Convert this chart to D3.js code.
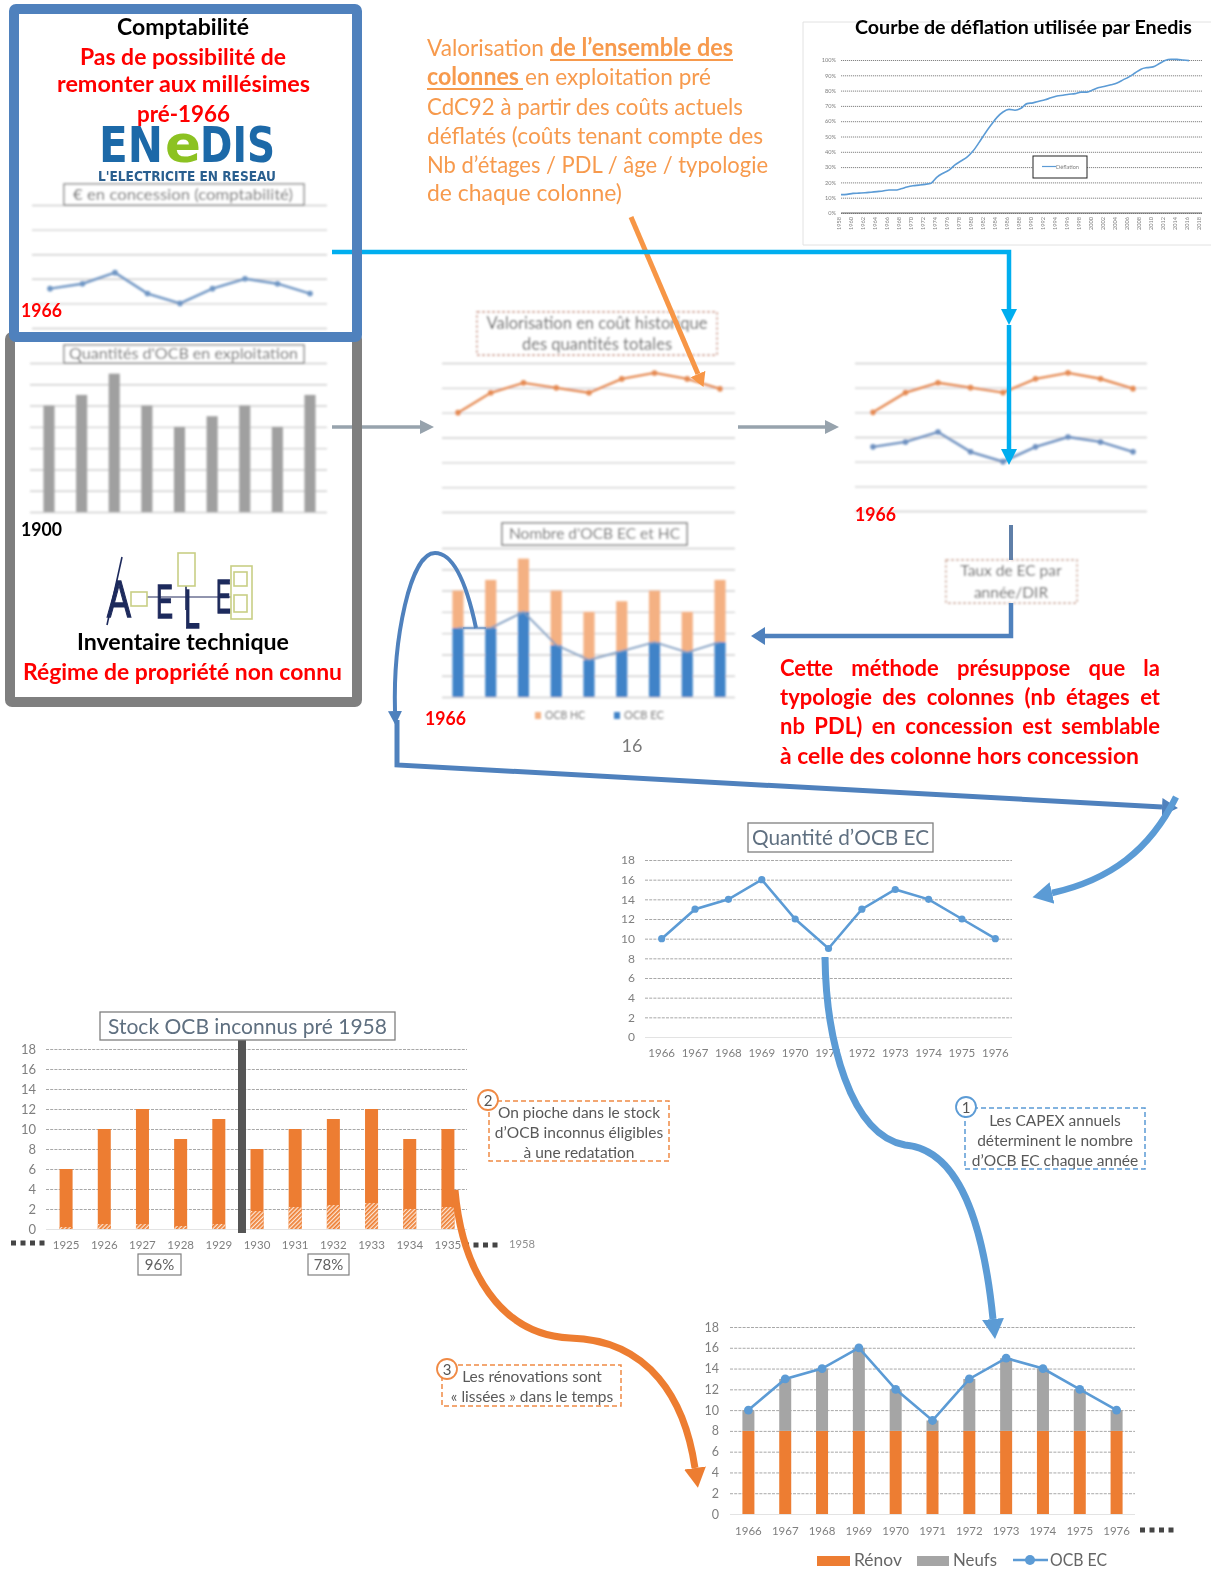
<!DOCTYPE html>
<html><head><meta charset="utf-8">
<script src="https://cdn.jsdelivr.net/npm/d3@7/dist/d3.min.js"></script>
<style>html,body{margin:0;padding:0;background:#fff}svg{display:block}text{font-family:Lato,"Open Sans",sans-serif}</style>
</head><body><script>
// ---------- data ----------
const comptaValues=[1.6,1.8,2.25,1.4,1.0,1.6,2.0,1.8,1.4];
const quantityValues=[5,5.5,6.5,5,4,4.5,5,4,5.5];
const valorisationValues=[4.0,4.8,5.2,5.0,4.8,5.36,5.6,5.36,4.96];
const ecCostValues=[2.6,2.8,3.2,2.4,2,2.6,3,2.8,2.4];
const ecCountValues=[3.24,3.24,4,2.44,1.74,2.16,2.58,2.1,2.58];
const miniCats=[0,1,2,3,4,5,6,7,8];
const deflationYears=d3.range(1958,2017);
const deflationValues=[12,12.2,12.8,13,13.2,13.6,14,14.4,15,15,15.8,17,17.8,18.2,18.7,19.5,23.5,26,28,31.5,34,36.5,40.5,46,52,57.5,62.5,66,67.7,67.2,68.5,71.5,72,73,74,75.3,76.5,77,77.6,78,79,79,80.5,82,82.8,83.8,85,87,89,91.5,94,95,95.5,97.5,99.7,100.5,100.4,100,99.6];
const ocbYears=[1966,1967,1968,1969,1970,1971,1972,1973,1974,1975,1976];
const ocbEC=[10,13,14,16,12,9,13,15,14,12,10];
const renov=[8,8,8,8,8,8,8,8,8,8,8];
const neufs=[2,5,6,8,4,1,5,7,6,4,2];
const stockYears=[1925,1926,1927,1928,1929,1930,1931,1932,1933,1934,1935];
const stockTotal=[6,10,12,9,11,8,10,11,12,9,10];
const stockHatched=[0.2,0.5,0.5,0.3,0.5,1.8,2.2,2.4,2.6,2,2.2];
const ticks18=[0,2,4,6,8,10,12,14,16,18];
const pctTicks=d3.range(0,101,10);
const deflationTicks=d3.range(1958,2019,2);

const C={orange:'#ed7d31',blue:'#5b9bd5',grey:'#a5a5a5',txt:'#6f6f6f',red:'#ff0000',dk:'#4f81bd',lorange:'#f79a4d'};
const svg=d3.select('body').append('svg').attr('width',1211).attr('height',1569);
const defs=svg.append('defs');
[['b1',1.0],['b2',0.4]].forEach(([id,s])=>defs.append('filter').attr('id',id).attr('x','-5%').attr('y','-5%').attr('width','110%').attr('height','110%')
  .append('feGaussianBlur').attr('stdDeviation',s));
const hp=defs.append('pattern').attr('id','hatch').attr('width',3).attr('height',3).attr('patternUnits','userSpaceOnUse').attr('patternTransform','rotate(-45)');
hp.append('rect').attr('width',3).attr('height',3).attr('fill','#fde6d6');
hp.append('rect').attr('width',3).attr('height',1.7).attr('fill',C.orange);
let mk=0;
function head(color,len,half){const id='m'+(mk++);
  defs.append('marker').attr('id',id).attr('markerUnits','userSpaceOnUse').attr('orient','auto').attr('markerWidth',len+1).attr('markerHeight',half*2+2)
   .attr('viewBox',`0 ${-half-1} ${len+1} ${half*2+2}`).attr('refX',0).attr('refY',0)
   .append('path').attr('d',`M0,${-half}L${len},0L0,${half}Z`).attr('fill',color);
  return `url(#${id})`;}
function T(g,s,x0,x1,base,size,o={}){
  const t=g.append('text').attr('x',x0).attr('y',base).attr('font-size',size).attr('fill',o.fill||'#000').attr('font-weight',o.w||400).text(s);
  if(x1!=null)t.attr('textLength',x1-x0).attr('lengthAdjust','spacingAndGlyphs');
  if(o.family)t.style('font-family',o.family);
  if(o.stroke)t.attr('stroke',o.fill).attr('stroke-width',o.stroke);
  return t;}
function C_(g,s,cx,base,size,fill,w){return g.append('text').attr('x',cx).attr('y',base).attr('text-anchor','middle').attr('font-size',size).attr('fill',fill).attr('font-weight',w||400).text(s);}
function box(g,x0,y0,x1,y1,stroke,sw,dash){const r=g.append('rect').attr('x',x0).attr('y',y0).attr('width',x1-x0).attr('height',y1-y0).attr('fill','#fff').attr('stroke',stroke).attr('stroke-width',sw);if(dash)r.attr('stroke-dasharray',dash);return r;}
function P(g,d,color,w,m){const p=g.append('path').attr('d',d).attr('fill','none').attr('stroke',color).attr('stroke-width',w);if(m)p.attr('marker-end',m);return p;}

// ---------- mini (blurred) charts ----------
function miniAxis(g,y,x0,x1,vals){
  g.append('g').attr('transform',`translate(${x0},0)`).call(d3.axisLeft(y).tickValues(vals).tickSize(-(x1-x0)).tickFormat(''))
   .call(a=>{a.select('.domain').remove();a.selectAll('line').attr('stroke','#cfcfcf').attr('stroke-width',1.4)});
}
function miniLine(g,vals,x,y,color){
  const line=d3.line().x((d,i)=>x(i)).y(d=>y(d));
  g.append('path').attr('d',line(vals)).attr('fill','none').attr('stroke',color).attr('stroke-width',2.4);
  g.selectAll(null).data(vals).join('circle').attr('cx',(d,i)=>x(i)).attr('cy',d=>y(d)).attr('r',2.8).attr('fill',color);
}
const blurG=svg.append('g').attr('filter','url(#b1)');

// compta
{const g=blurG,y=d3.scaleLinear([0,5],[328,205]),x=d3.scalePoint(miniCats,[50,310]);
 miniAxis(g,y,32,327,[0,1,2,3,4,5]);miniLine(g,comptaValues,x,y,'#7096c4');
 box(g,64,184,304,205,'#8f8f8f',1.5);T(g,'€ en concession (comptabilité)',73,293,200,16,{fill:'#707070'});}
// quantités
{const g=blurG,y=d3.scaleLinear([0,7],[512,363]),x=d3.scaleBand(miniCats,[32.7,326.3]).paddingInner(0.66).paddingOuter(0.33);
 miniAxis(g,y,30,327,d3.range(8));
 g.selectAll(null).data(quantityValues).join('rect').attr('x',(d,i)=>x(i)).attr('width',x.bandwidth()).attr('y',d=>y(d)).attr('height',d=>y(0)-y(d)).attr('fill','#a0a0a0');
 box(g,64,345,304,363,'#8f8f8f',1.5);T(g,"Quantités d'OCB en exploitation",69,298,359,16,{fill:'#707070'});}
// valorisation
{const g=blurG,y=d3.scaleLinear([0,6],[512,363]),x=d3.scalePoint(miniCats,[458,720]);
 miniAxis(g,y,442,735,d3.range(7));miniLine(g,valorisationValues,x,y,'#e58a52');
 box(g,477,312,717,355,'#c98f7c',1.3,'3 2');
 C_(g,'Valorisation en coût historique',597,329,16.5,'#606060');C_(g,'des quantités totales',597,350,16.5,'#606060');}
// right chart
{const g=blurG,y=d3.scaleLinear([0,6],[511,363]),x=d3.scalePoint(miniCats,[873,1133]);
 miniAxis(g,y,855,1147,d3.range(7));
 miniLine(g,valorisationValues,x,y,'#e58a52');miniLine(g,ecCostValues,x,y,'#6d90c0');}
// nombre
{const g=blurG,y=d3.scaleLinear([0,7],[697,548]),x=d3.scaleBand(miniCats,[441.6,736.4]).paddingInner(0.66).paddingOuter(0.33);
 miniAxis(g,y,442,735,d3.range(8));
 g.selectAll(null).data(quantityValues).join('rect').attr('x',(d,i)=>x(i)).attr('width',x.bandwidth()).attr('y',d=>y(d)).attr('height',(d,i)=>y(ecCountValues[i])-y(d)).attr('fill','#f4b183');
 g.selectAll(null).data(ecCountValues).join('rect').attr('x',(d,i)=>x(i)).attr('width',x.bandwidth()).attr('y',d=>y(d)).attr('height',d=>y(0)-y(d)).attr('fill','#3f83c8');
 g.append('path').attr('d',d3.line().x((d,i)=>x(i)+x.bandwidth()/2).y(d=>y(d))(ecCountValues)).attr('fill','none').attr('stroke','#7f9cc0').attr('stroke-width',1.8);
 box(g,502,523,687,545,'#808080',1.5);T(g,"Nombre d'OCB EC et HC",509,680,539,16,{fill:'#707070'});
 g.append('rect').attr('x',535).attr('y',712).attr('width',6).attr('height',7).attr('fill','#f4b183');
 T(g,'OCB HC',545,585,719,11,{fill:'#808080'});
 g.append('rect').attr('x',614).attr('y',712).attr('width',6).attr('height',7).attr('fill','#3f83c8');
 T(g,'OCB EC',624,664,719,11,{fill:'#808080'});
 box(g,946,560,1077,603,'#c9a08e',1.3,'3 2');
 C_(g,'Taux de EC par',1011,576,15.5,'#606060');C_(g,'année/DIR',1011,598,15.5,'#606060');}

// ---------- deflation chart ----------
{const g=svg.append('g').attr('filter','url(#b2)');
 P(g,'M1211,22H803V245H1211','#e2e2e2',1);
 const x=d3.scalePoint(d3.range(1958,2019),[841,1201]),y=d3.scaleLinear([0,100],[213,60]);
 g.append('g').attr('transform','translate(841,0)').call(d3.axisLeft(y).tickValues(pctTicks).tickSize(-361).tickPadding(5).tickFormat(d=>d+'%'))
  .call(a=>{a.select('.domain').remove();a.selectAll('line').attr('stroke','#777').attr('stroke-dasharray','1.2 0.8').attr('stroke-width',0.9);
   a.selectAll('text').attr('font-size',5.6).attr('fill','#808080')});
 g.append('line').attr('x1',841).attr('x2',1202).attr('y1',y(0)).attr('y2',y(0)).attr('stroke','#666').attr('stroke-width',1.2);
 g.append('g').attr('transform','translate(0,213)').call(d3.axisBottom(x).tickValues(deflationTicks).tickSize(0).tickPadding(0))
  .call(a=>{a.select('.domain').remove();a.selectAll('text').attr('font-size',5.6).attr('fill','#808080').attr('text-anchor','end')
    .attr('transform','rotate(-90)').attr('x',-4).attr('y',-2).attr('dy','0.3em')});
 g.append('path').attr('d',d3.line().x((d,i)=>x(deflationYears[i])).y(d=>y(d)).curve(d3.curveMonotoneX)(deflationValues)).attr('fill','none').attr('stroke',C.blue).attr('stroke-width',1.6);
 box(g,1033,156,1087,178,'#222',1);
 P(g,'M1042,166.5H1056',C.blue,1.2);T(g,'Déflation',1056,1079,168.5,6,{fill:'#808080'});
}
const tx=svg.append('g');
T(tx,'Courbe de déflation utilisée par Enedis',855,1192,34,18.5,{w:700});

// ---------- logos ----------
{const g=svg.append('g').attr('filter','url(#b2)');
 const fam='"DejaVu Sans",sans-serif';
 T(g,'EN',99,163,162,50,{w:700,fill:'#1f69a8',family:fam});
 T(g,'DIS',200,275,162,50,{w:700,fill:'#1f69a8',family:fam});
 T(g,'e',165,201,162,52,{w:700,fill:'#8cc220',family:fam});
 T(g,"L'ELECTRICITE EN RESEAU",98,276,181,14.5,{w:700,fill:'#2a5f8f',family:fam});
 const d='#1f2a5c',o='#c9cf85',lib='"Liberation Sans",sans-serif';
 P(g,'M122,557L107,625',d,1.6);
 T(g,'A',107,131,617,52,{fill:d,family:lib,stroke:1.4});T(g,'E',156,173,618,48,{fill:d,family:lib,stroke:1.4});
 T(g,'L',184,200,628,56,{fill:d,family:lib,stroke:1.4});T(g,'E',216,231,613,48,{fill:d,family:lib,stroke:1.4});
 P(g,'M147,597H231',d,1);P(g,'M186,586V610',d,1.6);
 [[131,592,147,606],[178,553,195,586],[231,566,252,619],[234,572,247,586],[234,595,247,612]].forEach(r=>{
   g.append('rect').attr('x',r[0]).attr('y',r[1]).attr('width',r[2]-r[0]).attr('height',r[3]-r[1]).attr('fill','none').attr('stroke',o).attr('stroke-width',1.6)});
}

// ---------- main charts ----------
function mainAxes(g,x,y,x0,x1,padL,padB,fs){
  g.append('g').attr('transform',`translate(${x0},0)`).call(d3.axisLeft(y).tickValues(ticks18).tickSize(-(x1-x0)).tickPadding(padL))
   .call(a=>{a.select('.domain').remove();
     a.selectAll('line').attr('stroke','#a8a8a8').attr('stroke-dasharray','3 1.2').attr('stroke-width',1);
     a.selectAll('text').attr('font-size',fs).attr('fill','#7f7f7f');
     a.selectAll('.tick').filter(d=>d===0).select('line').attr('stroke','#e3e3e3').attr('stroke-dasharray',null)});
  g.append('g').attr('transform',`translate(0,${y(0)})`).call(d3.axisBottom(x).tickSize(0).tickPadding(padB))
   .call(a=>{a.select('.domain').remove();a.selectAll('text').attr('font-size',11.5).attr('fill','#7f7f7f')});
}
const mainG=svg.append('g').attr('filter','url(#b2)');
// quantité OCB EC
{const g=mainG,x=d3.scaleBand(ocbYears,[645,1012]),y=d3.scaleLinear([0,18],[1037,860]);
 mainAxes(g,x,y,645,1012,10,12,12);
 const cx=d=>x(d)+x.bandwidth()/2;
 g.append('path').attr('d',d3.line().x((d,i)=>cx(ocbYears[i])).y(d=>y(d))(ocbEC)).attr('fill','none').attr('stroke',C.blue).attr('stroke-width',2.6);
 g.selectAll(null).data(ocbEC).join('circle').attr('cx',(d,i)=>cx(ocbYears[i])).attr('cy',d=>y(d)).attr('r',3.6).attr('fill',C.blue);
 box(g,748,823,933,852,'#7f7f7f',1.3);T(g,"Quantité d’OCB EC",752,929,845,22,{fill:'#5f6f80'});}
// stock
{const g=mainG,x=d3.scaleBand(stockYears,[47,467]),y=d3.scaleLinear([0,18],[1229,1049]);
 mainAxes(g,x,y,46,467,10,12,13);
 const w=13,bx=d=>x(d)+x.bandwidth()/2-w/2;
 g.selectAll(null).data(stockTotal).join('rect').attr('x',(d,i)=>bx(stockYears[i])).attr('width',w).attr('y',d=>y(d)).attr('height',d=>y(0)-y(d)).attr('fill',C.orange);
 g.selectAll(null).data(stockHatched).join('rect').attr('x',(d,i)=>bx(stockYears[i])).attr('width',w).attr('y',d=>y(d)).attr('height',d=>y(0)-y(d)).attr('fill','url(#hatch)');
 g.append('rect').attr('x',238).attr('y',1040).attr('width',8).attr('height',193).attr('fill','#555');
 box(g,100,1012,395,1040,'#7f7f7f',1.3);T(g,'Stock OCB inconnus pré 1958',108,387,1034,22,{fill:'#5f6f80'});
 box(g,138,1254,181,1275,'#7f7f7f',1.2);C_(g,'96%',159.5,1270,15,'#606060');
 box(g,308,1254,349,1275,'#7f7f7f',1.2);C_(g,'78%',328.5,1270,15,'#606060');
 P(g,'M11,1243H49','#444',5).attr('stroke-dasharray','5 4.5');
 P(g,'M464,1245H501','#444',5).attr('stroke-dasharray','5 4.5');
 T(g,'1958',509,535,1248,11.5,{fill:'#8f8f8f'});}
// bottom
{const g=mainG,x=d3.scaleBand(ocbYears,[730,1135]),y=d3.scaleLinear([0,18],[1514,1327]);
 mainAxes(g,x,y,730,1135,11,13,12.5);
 const w=12,cx=d=>x(d)+x.bandwidth()/2;
 g.selectAll(null).data(renov).join('rect').attr('x',(d,i)=>cx(ocbYears[i])-w/2).attr('width',w).attr('y',d=>y(d)).attr('height',d=>y(0)-y(d)).attr('fill',C.orange);
 g.selectAll(null).data(neufs).join('rect').attr('x',(d,i)=>cx(ocbYears[i])-w/2).attr('width',w).attr('y',(d,i)=>y(d+renov[i])).attr('height',d=>y(0)-y(d)).attr('fill','#a5a5a5');
 g.append('path').attr('d',d3.line().x((d,i)=>cx(ocbYears[i])).y(d=>y(d))(ocbEC)).attr('fill','none').attr('stroke',C.blue).attr('stroke-width',2.6);
 g.selectAll(null).data(ocbEC).join('circle').attr('cx',(d,i)=>cx(ocbYears[i])).attr('cy',d=>y(d)).attr('r',4.4).attr('fill',C.blue);
 P(g,'M1140,1530H1177','#444',5).attr('stroke-dasharray','5 4.5');
 g.append('rect').attr('x',817).attr('y',1556).attr('width',33).attr('height',10).attr('fill',C.orange);
 T(g,'Rénov',854,902,1566,18,{fill:'#666'});
 g.append('rect').attr('x',917).attr('y',1556).attr('width',32).attr('height',10).attr('fill','#a5a5a5');
 T(g,'Neufs',953,997,1566,18,{fill:'#666'});
 P(g,'M1013,1560H1048',C.blue,2.4);g.append('circle').attr('cx',1030).attr('cy',1560).attr('r',5).attr('fill',C.blue);
 T(g,'OCB EC',1050,1107,1566,18,{fill:'#666'});}

// ---------- callouts ----------
function callout(x0,y0,x1,y1,col,n,cx,cy,lines,tcx,bases){
  const g=mainG;box(g,x0,y0,x1,y1,col,1.5,'5 3');
  g.append('circle').attr('cx',cx).attr('cy',cy).attr('r',10).attr('fill','#fff').attr('stroke',col).attr('stroke-width',1.8);
  C_(g,n,cx,cy+5.5,15,'#555');
  lines.forEach((l,i)=>C_(g,l,tcx,bases[i],15.5,'#595959'));}
callout(489,1101,669,1161,'#f08a45','2',488,1100,['On pioche dans le stock','d’OCB inconnus éligibles','à une redatation'],579,[1118,1138,1158]);
callout(965,1108,1145,1169,C.blue,'1',966,1107,['Les CAPEX annuels','déterminent le nombre','d’OCB EC chaque année'],1055,[1126,1146,1166]);
callout(442,1365,621,1406,'#f08a45','3',447,1369,['Les rénovations sont','« lissées » dans le temps'],532,[1382,1402]);
C_(tx,'16',632,752,18,'#7a7a7a');

// ---------- arrows ----------
const ar=svg.append('g');
const hGrey=head('#97a3ad',14,7),hCy=head('#00aeef',16,8),hDk=head(C.dk,14,9),hOr=head('#f79646',14,8),hBlue=head(C.blue,20,11),hO2=head(C.orange,20,11),hDk2=head(C.dk,16,9);
P(ar,'M332,427H420','#97a3ad',3.6,hGrey);P(ar,'M738,427H825','#97a3ad',3.6,hGrey);
P(ar,'M1011,525V560','#5f7fa8',4);P(ar,'M1011,603V636H765',C.dk,4.5,hDk);
P(ar,'M631,217L698,374','#f79646',5,hOr);
P(ar,'M476,628C468,590 455,553 435,553C410,553 393,640 395,711',C.dk,4,head(C.dk,14,7));
P(ar,'M463,628H486',C.dk,1);
P(ar,'M397,720V765L1162,807',C.dk,5,hDk2);
P(ar,'M1176,797C1150,850 1110,880 1052,893',C.blue,6.5,hBlue);
P(ar,'M825,957C826,1040 850,1135 905,1145C965,1150 985,1240 993,1319',C.blue,7,hBlue);
P(ar,'M455,1190C462,1270 500,1335 570,1338C650,1340 685,1400 695,1468',C.orange,7,hO2);
P(ar,'M332,252H1009V309','#00aeef',4.5,hCy);
P(ar,'M1009,325V449','#00aeef',4.5,hCy);

// frames on top of the arrows' starts
const frameG=svg.append('g');
box(frameG,10,337,357,702,'#7f7f7f',10).attr('fill','none').attr('rx',2);
box(frameG,14,9,357,337,C.dk,10).attr('fill','none').attr('rx',2);

// ---------- texts ----------
const t=svg.append('g');
T(t,'Comptabilité',117,249,35,22,{w:700});
T(t,'Pas de possibilité de',80,286,65,22,{w:700,fill:C.red});
T(t,'remonter aux millésimes',57,310,92,22,{w:700,fill:C.red});
T(t,'pré-1966',137,230,122,22,{w:700,fill:C.red});
T(t,'1966',21,62,317,18,{w:700,fill:C.red});
T(t,'1900',21,62,536,18,{w:700});
T(t,'Inventaire technique',77,289,650,22,{w:700});
T(t,'Régime de propriété non connu',23,342,680,22,{w:700,fill:C.red});
T(t,'1966',855,896,521,18,{w:700,fill:C.red});
T(t,'1966',425,466,725,18,{w:700,fill:C.red});
// orange paragraph
const lo=C.lorange;
T(t,'Valorisation',427,544,56,24,{fill:lo});
T(t,'de l’ensemble des',550,733,56,24,{fill:lo,w:700});
T(t,'colonnes',427,519,85,24,{fill:lo,w:700});
T(t,'en exploitation pré',525,711,85,24,{fill:lo});
T(t,'CdC92 à partir des coûts actuels',427,743,115,24,{fill:lo});
T(t,'déflatés (coûts tenant compte des',427,763,144,24,{fill:lo});
T(t,'Nb d’étages / PDL / âge / typologie',427,768,173,24,{fill:lo});
T(t,'de chaque colonne)',427,622,201,24,{fill:lo});
P(t,'M550,60H733',lo,2);P(t,'M427,89H523',lo,2);
// justified red paragraph
const redLines=['Cette méthode présuppose que la','typologie des colonnes (nb étages et','nb PDL) en concession est semblable','à celle des colonne hors concession'];
[676,705,734,764].forEach((b,i)=>{
  const e=T(t,redLines[i],780,null,b,22,{w:700,fill:C.red});
  if(i<3){const n=e.node().getComputedTextLength(),sp=redLines[i].split(' ').length-1;
    if(n>380){e.attr('textLength',380).attr('lengthAdjust','spacingAndGlyphs');}
    else e.style('word-spacing',((380-n)/sp)+'px');}
  else e.attr('textLength',359).attr('lengthAdjust','spacingAndGlyphs');
});
</script></body></html>
